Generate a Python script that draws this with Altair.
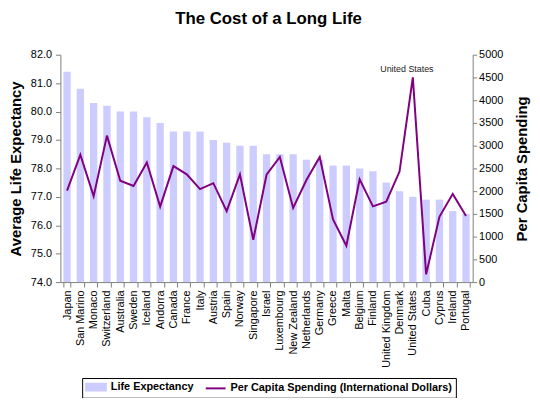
import altair as alt
import pandas as pd

countries = ["Japan", "San Marino", "Monaco", "Switzerland", "Australia", "Sweden",
             "Iceland", "Andorra", "Canada", "France", "Italy", "Austria", "Spain",
             "Norway", "Singapore", "Israel", "Luxembourg", "New Zealand", "Netherlands",
             "Germany", "Greece", "Malta", "Belgium", "Finland", "United Kingdom",
             "Denmark", "United States", "Cuba", "Cyprus", "Ireland", "Portugal"]
life_expectancy = [81.4, 80.8, 80.3, 80.2, 80.0, 80.0, 79.8, 79.6, 79.3, 79.3, 79.3,
                   79.0, 78.9, 78.8, 78.8, 78.5, 78.5, 78.5, 78.3, 78.3, 78.1, 78.1,
                   78.0, 77.9, 77.5, 77.2, 77.0, 76.9, 76.9, 76.5, 76.4]
spending = [2010, 2800, 1890, 3220, 2230, 2115, 2630, 1660, 2550, 2370, 2045, 2175,
            1560, 2370, 930, 2360, 2750, 1630, 2245, 2750, 1380, 800, 2260, 1665,
            1770, 2430, 4500, 170, 1435, 1940, 1455]

LE = "Life Expectancy"
PS = "Per Capita Spending (International Dollars)"
FONT = "Liberation Sans"

df = pd.DataFrame({"Country": countries, "Life": life_expectancy, "Spending": spending})

base = alt.Chart(df)

x_enc = alt.X("Country:N", sort=countries, title=None,
              scale=alt.Scale(paddingInner=0.45, paddingOuter=0.225),
              axis=alt.Axis(labelAngle=270, tickBand="extent", labelFontSize=11,
                            labelPadding=3, tickSize=5, labelColor="#000"))

color_scale = alt.Scale(domain=[LE, PS], range=["#ccccff", "#800080"])

is_le = "datum.value === 'Life Expectancy'"
legend = alt.Legend(
    title=None, orient="none", legendX=22, legendY=327, direction="horizontal",
    strokeColor="#000", padding=3, labelFont=FONT, labelFontWeight="bold",
    labelFontSize=11, labelColor="#000", labelLimit=400, symbolSize=100, labelOffset=14,
    columnPadding=8,
    symbolType=alt.ExprRef(expr=f"{is_le} ? 'M-1,-0.7H3V0.7H-1Z' : 'M-1,0H3'"),
    symbolStrokeColor=alt.ExprRef(expr=f"{is_le} ? 'transparent' : '#800080'"),
    symbolFillColor=alt.ExprRef(expr=f"{is_le} ? '#ccccff' : 'transparent'"),
    symbolStrokeWidth=2,
    symbolOpacity=1,
)

color_enc = alt.Color("series:N", scale=color_scale, legend=legend)

bars = base.transform_calculate(series=f"'{LE}'").mark_bar().encode(
    x=x_enc,
    y=alt.Y("Life:Q", scale=alt.Scale(domain=[74, 82], zero=False, nice=False),
            axis=alt.Axis(values=[74, 75, 76, 77, 78, 79, 80, 81, 82], format=".1f",
                          title="Average Life Expectancy", titlePadding=7,
                          tickSize=5, labelPadding=4)),
    y2=alt.datum(74),
    color=color_enc,
)

y_sp = alt.Y("Spending:Q", scale=alt.Scale(domain=[0, 5000], nice=False),
             axis=alt.Axis(orient="right", values=list(range(0, 5001, 500)), format="d",
                           title="Per Capita Spending", titleAngle=270,
                           titleBaseline="top", titlePadding=12,
                           tickSize=4, labelPadding=2))

line = base.transform_calculate(series=f"'{PS}'").mark_line(strokeWidth=2).encode(
    x=x_enc, y=y_sp, color=color_enc
)

label = base.transform_filter(alt.datum.Country == "United States").mark_text(
    fontSize=9, font=FONT, color="#222", dx=-6, dy=-5, baseline="alphabetic"
).encode(x=x_enc, y=y_sp, text="Country:N")

chart = alt.layer(bars, alt.layer(line, label)).resolve_scale(y="independent").properties(
    width=417, height=230,
    autosize=alt.AutoSizeParams(type="none"),
    padding={"left": 53, "top": 45, "right": 60, "bottom": 115},
    title=alt.TitleParams("The Cost of a Long Life", font=FONT, fontSize=17,
                          fontWeight="bold", color="#000", offset=21, frame="group", dx=2),
).configure_view(stroke=None).configure_axis(
    grid=False, domainColor="#808080", tickColor="#808080", labelFont=FONT,
    titleFont=FONT, labelFontSize=11, labelColor="#000", titleFontSize=15,
    titleFontWeight="bold", titleColor="#000"
)

chart.save("out.html", embed_options={"renderer": "svg", "actions": False})
